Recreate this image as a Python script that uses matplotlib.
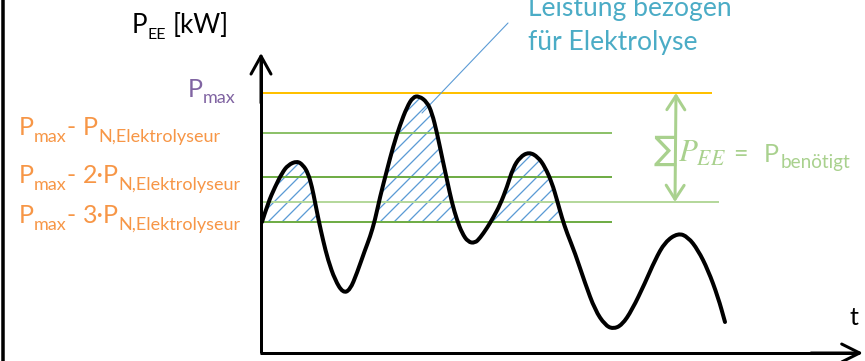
import matplotlib
matplotlib.use("Agg")
import matplotlib.pyplot as plt
from matplotlib.lines import Line2D
from matplotlib.path import Path
from matplotlib.patches import PathPatch
import numpy as np

# ---------------- data ----------------
t_vals = [1, 7, 14, 21, 27, 36, 42, 47, 51, 54, 58, 62, 67, 74, 82, 89, 96, 104,
          109, 114, 119, 126, 132, 139, 146, 152, 158, 166, 171, 176, 181, 186,
          191, 196, 201, 207, 214, 219, 226, 232, 239, 246, 252, 259, 268, 277,
          284, 291, 296, 301, 306, 314, 324, 334, 344, 352, 361, 371, 384, 394,
          404, 417, 427, 437, 447, 457, 464]
p_vals = [131, 150, 166, 180, 188, 192, 188, 180, 166, 151, 131, 113, 93, 73, 60,
          63, 80, 103, 116, 133, 156, 183, 206, 228, 246, 256, 257, 251, 240,
          220, 196, 173, 150, 133, 120, 111, 110, 115, 125, 135, 148, 166, 185,
          196, 201, 196, 186, 170, 153, 135, 120, 100, 70, 43, 28, 24, 28, 43,
          70, 93, 111, 120, 116, 103, 83, 56, 31]

levels = [260, 220, 176, 151, 131]          # P_max ... P_max - 3*P_N
level_colors = ["#ffc000", "#8dc16a", "#70ad47", "#b5d89c", "#70ad47"]
level_ends = [451, 351, 351, 458, 351]

label_pmax = ("P", "max")
labels_orange = [("P", "max", "-", "P", "N,Elektrolyseur"),
                 ("P", "max", "-", "2·P", "N,Elektrolyseur"),
                 ("P", "max", "-", "3·P", "N,Elektrolyseur")]
ylabel = ("P", "EE", "[kW]")
xlabel = "t"
note_lines = ["Leistung bezogen", "für Elektrolyse"]
sum_parts = ("∑", r"$P_{EE}$", "=", "P", "benötigt")

# ---------------- figure ----------------
DPI = 84
W, H = 865, 361
plt.rcParams["font.family"] = ["Lato", "DejaVu Sans"]
plt.rcParams["hatch.linewidth"] = 1.1


def pt(px):
    return px * 72.0 / DPI


fig = plt.figure(figsize=(W / DPI, H / DPI), dpi=DPI)
ax = fig.add_axes([0, 0, 1, 1])
ax.set_xlim(-261, W - 261)
ax.set_ylim(-8, H - 8)
ax.axis("off")

t = np.array(t_vals, float)
p = np.array(p_vals, float)

# hatched area above the lowest level
ax.fill_between(t, p, levels[-1], where=p >= levels[-1], interpolate=True,
                facecolor="none", edgecolor="#5b9bd5", hatch="//", linewidth=0,
                zorder=2)

# level lines
for lv, c, e in zip(levels, level_colors, level_ends):
    ax.plot([1, e], [lv, lv], color=c, lw=pt(2), solid_capstyle="butt", zorder=3)

# curve drawn as a smooth quadratic Bezier path through the read points
pts = np.column_stack([t, p])
verts = [pts[0]]
codes = [Path.MOVETO]
for i in range(1, len(pts) - 1):
    verts += [pts[i], (pts[i] + pts[i + 1]) / 2]
    codes += [Path.CURVE3, Path.CURVE3]
verts.append(pts[-1])
codes.append(Path.LINETO)
ax.add_patch(PathPatch(Path(verts, codes), fill=False, edgecolor="black",
                       lw=pt(4), capstyle="round", joinstyle="round", zorder=4))

# axes with arrows
ax.plot([0, 0], [0, 296], color="black", lw=pt(3), solid_capstyle="butt", zorder=5)
ax.plot([-1, 598], [0, 0], color="black", lw=pt(3), solid_capstyle="butt", zorder=5)
ax.annotate("", xy=(0, 300), xytext=(0, 250),
            arrowprops=dict(arrowstyle="->,head_length=%f,head_width=%f" % (pt(18), pt(10)),
                            lw=pt(3), color="black", shrinkA=0, shrinkB=0,
                            mutation_scale=1), zorder=5)
ax.annotate("", xy=(602, 0), xytext=(550, 0),
            arrowprops=dict(arrowstyle="->,head_length=%f,head_width=%f" % (pt(18), pt(9)),
                            lw=pt(3), color="black", shrinkA=0, shrinkB=0,
                            mutation_scale=1), zorder=5)

# double arrow (sum)
ax.annotate("", xy=(415, levels[0]), xytext=(414, levels[3]),
            arrowprops=dict(arrowstyle="<->,head_length=%f,head_width=%f" % (pt(14), pt(9)),
                            lw=pt(3), color="#a9d18e", shrinkA=0, shrinkB=0,
                            mutation_scale=1), zorder=5)

# left frame line
fig.add_artist(Line2D([3.5 / W, 3.5 / W], [0, 1], transform=fig.transFigure,
                      color="black", lw=pt(3.5)))

renderer = fig.canvas.get_renderer()


def rich(x, y, parts, color):
    """parts: (text, size_px, dy_px, gap_after_px, extra kwargs)"""
    cx = x
    for txt, spx, dy, gap, kw in parts:
        tx = ax.text(cx, y - dy, txt, fontsize=pt(spx), color=color, ha="left",
                     va="baseline", zorder=6, **kw)
        bb = tx.get_window_extent(renderer)
        cx += bb.width + gap
    return cx


# y label
rich(-129, 320, [(ylabel[0], 26, 0, 0, {}), (ylabel[1], 16, 6, 7, {}),
                 (ylabel[2], 26, 0, 0, {})], "black")
# P_max
rich(-73, 256, [(label_pmax[0], 25, 0, 0, {}), (label_pmax[1], 18, 6, 0, {})],
     "#8064a2")
# orange labels
for (a, b, c, d, e), y in zip(labels_orange, [218, 170, 130]):
    rich(-242, y, [(a, 25, 0, 0, {}), (b, 18, 7, 0, {}), (c, 25, 0, 7, {}),
                   (d, 25, 0, 0, {}), (e, 18, 7, 0, {})], "#f79646")

# x label
ax.text(589, 28, xlabel, fontsize=pt(25), color="black", ha="left", va="baseline")

# note (the first line is cut by the top edge, as in the original)
for line, y in zip(note_lines, [337, 303]):
    ax.text(267, y, line, fontsize=pt(26.5), color="#4bacc6", ha="left", va="baseline")
ax.annotate("", xy=(161, 240), xytext=(247, 330),
            arrowprops=dict(arrowstyle="-", lw=pt(1.1), color="#5b9bd5",
                            shrinkA=0, shrinkB=0))

# sum label
rich(393, 191, [(sum_parts[0], 34, -2, 1, {"family": ["DejaVu Sans"]}),
                (sum_parts[1], 31, 0, 7, {"math_fontfamily": "stix"}),
                (sum_parts[2], 25, 0, 16, {}),
                (sum_parts[3], 25, 0, 2, {}),
                (sum_parts[4], 19, 6, 0, {})], "#a9d18e")

fig.savefig("out.png", dpi=DPI)
